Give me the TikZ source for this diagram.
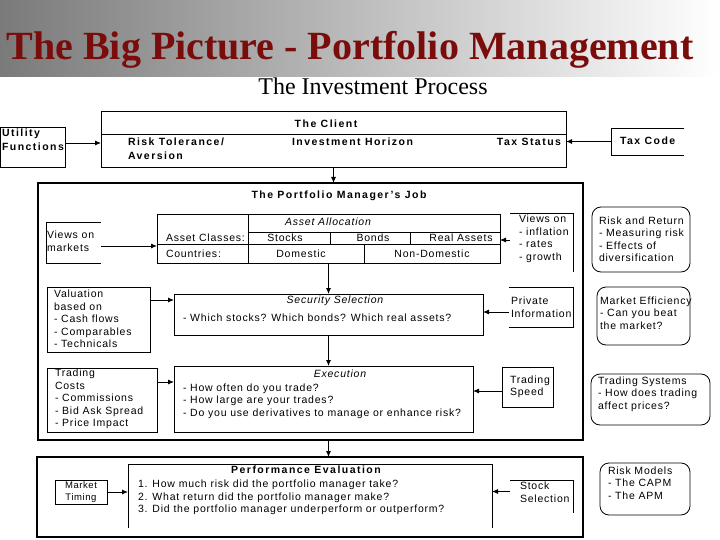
\documentclass[tikz,border=0pt]{standalone}
\usepackage{fontspec}
\setmainfont{Liberation Sans}
\newfontfamily\serifx{Liberation Serif}
\usetikzlibrary{arrows.meta}
\definecolor{titlered}{HTML}{7B0C0C}
\definecolor{bannergray}{HTML}{7A7A7A}
\begin{document}
\begin{tikzpicture}[x=1pt,y=-1pt,
  every node/.style={inner sep=0pt, outer sep=0pt},
  txt/.style={font=\fontsize{10.5}{12.5}\selectfont\addfontfeature{LetterSpace=7.5}, align=left},
  btxt/.style={font=\bfseries\fontsize{10.5}{14}\selectfont\addfontfeature{LetterSpace=14}, align=left},
  itxt/.style={font=\itshape\fontsize{10.5}{12}\selectfont\addfontfeature{LetterSpace=7.5}},
  bx/.style={draw, line width=0.9pt},
  heavy/.style={draw, line width=1.7pt},
  rbx/.style={draw, line width=0.8pt, rounded corners=9pt},
  arr/.style={line width=0.9pt, -{Latex[length=6pt,width=5pt]}},
  ln/.style={line width=0.9pt},
  area/.style={anchor=north west}
]
\useasboundingbox (0,0) rectangle (720,540);
\shade[left color=bannergray, right color=white] (0,0) rectangle (720,77);
\node[anchor=base, font=\serifx\bfseries\fontsize{40}{40}\selectfont, text=titlered] (title) at (350,60) {The Big Picture - Portfolio Management};
\node[anchor=base, font=\serifx\fontsize{24}{24}\selectfont] (process) at (373,95) {The Investment Process};

% The client
\node[bx, area, minimum width=465pt, minimum height=56pt] (client) at (101,111) {};
\draw[ln] (client.west |- 0,134) -- (client.east |- 0,134);
\node[btxt] (clienthead) at (326,124) {The Client};
\node[btxt, anchor=west] (risktol) at (128,149) {Risk Tolerance/\\Aversion};
\node[btxt, anchor=west] (horizon) at (292,142) {Investment Horizon};
\node[btxt, anchor=east] (taxstatus) at (561,142) {Tax Status};

\node[bx, area, minimum width=64.5pt, minimum height=40pt] (util) at (0.5,127) {};
\node[btxt, anchor=west] (utiltext) at (2,140) {Utility\\Functions};
\coordinate (uA) at ([yshift=4pt]util.east);
\draw[arr] (uA) -- (uA -| client.west);

\node[area, minimum width=73pt, minimum height=27pt] (tax) at (611,128) {};
\draw[ln] (tax.north east) -- (tax.north west) -- (tax.south west) -- (tax.south east);
\node[btxt, anchor=west] (taxtext) at (620,141) {Tax Code};
\draw[arr] (tax.west) -- (tax.west -| client.east);

% Portfolio manager's job
\node[heavy, area, minimum width=545pt, minimum height=257pt] (pm) at (38,183) {};
\draw[arr] (client.south) -- (client.south |- pm.north);
\node[btxt] (pmhead) at (339,196) {The Portfolio Manager's Job};

% asset allocation table
\node[bx, area, minimum width=343pt, minimum height=49pt] (tab) at (157,214) {};
\draw[ln] (248,214) -- (248,263);
\draw[ln] (248,232) -- (500,232);
\draw[ln] (157,244) -- (500,244);
\draw[ln] (330,232) -- (330,244);
\draw[ln] (410,232) -- (410,244);
\draw[ln] (364,244) -- (364,263);
\node[itxt] (aahead) at (328,222) {Asset Allocation};
\node[txt, anchor=west] (aclass) at (166,238) {Asset Classes:};
\node[txt] (stocks) at (285,238) {Stocks};
\node[txt] (bonds) at (373,238) {Bonds};
\node[txt] (real) at (461,238) {Real Assets};
\node[txt, anchor=west] (countries) at (166,254) {Countries:};
\node[txt] (domestic) at (301,254) {Domestic};
\node[txt] (nondom) at (432,254) {Non-Domestic};

\node[area, minimum width=55pt, minimum height=41pt] (vm) at (46,222) {};
\draw[ln] (vm.north east) -- (vm.north west) -- (vm.south west) -- (vm.south east);
\node[txt, anchor=west] (vmtext) at (47,241) {Views on\\markets};
\coordinate (vmA) at ([yshift=-3.5pt]vm.east);
\draw[arr] (vmA) -- (vmA -| tab.west);

\node[area, minimum width=63pt, minimum height=59pt] (vr) at (510,213) {};
\draw[ln] (vr.north west) -- (vr.north east) -- (vr.south east);
\node[txt, anchor=west] (vrtext) at (519,239) {Views on\\- inflation\\- rates\\- growth};
\coordinate (vrA) at ([yshift=2.5pt]vr.west);
\draw[arr] (vrA) -- (vrA -| tab.east);

\node[rbx, area, minimum width=98pt, minimum height=65pt] (rr) at (592,207) {};
\node[txt, anchor=west] (rrtext) at (599,239) {Risk and Return\\- Measuring risk\\- Effects of\\diversification};

% security selection
\node[bx, area, minimum width=309pt, minimum height=41pt] (sec) at (174,294) {};
\draw[arr] (tab.south) -- (tab.south |- sec.north);
\node[itxt] (sechead) at (335,301) {Security Selection};
\node[txt, anchor=west] (sectext) at (183,318) {- Which stocks? Which bonds? Which real assets?};

\node[bx, area, minimum width=103pt, minimum height=65pt] (val) at (47,287) {};
\node[txt, anchor=west] (valtext) at (54,319) {Valuation\\based on\\- Cash flows\\- Comparables\\- Technicals};
\coordinate (vaA) at ([yshift=19.5pt]val.east);
\draw[arr] (vaA) -- (vaA -| sec.west);

\node[area, minimum width=64pt, minimum height=40pt] (pi) at (509,287) {};
\draw[ln] (pi.north west) -- (pi.north east) -- (pi.south east) -- (pi.south west);
\node[txt, anchor=west] (pitext) at (511,307) {Private\\Information};
\coordinate (piA) at ([yshift=-5pt]pi.west);
\draw[arr] (piA) -- (piA -| sec.east);

\node[rbx, area, minimum width=93pt, minimum height=58pt] (me) at (597,287) {};
\node[txt, anchor=west] (metext) at (600,313) {Market Efficiency\\- Can you beat\\the market?};

% execution
\node[bx, area, minimum width=299pt, minimum height=66pt] (exe) at (174,366) {};
\draw[arr] (sec.south) -- (sec.south |- exe.north);
\node[itxt] (exehead) at (340,374) {Execution};
\node[txt, anchor=west] (exetext) at (183,401) {- How often do you trade?\\- How large are your trades?\\- Do you use derivatives to manage or enhance risk?};

\node[bx, area, minimum width=110pt, minimum height=64pt] (tc) at (47,368) {};
\node[txt, anchor=west] (tctext) at (55,399) {Trading\\Costs\\- Commissions\\- Bid Ask Spread\\- Price Impact};
\coordinate (tcA) at ([yshift=18pt]tc.east);
\draw[arr] (tcA) -- (tcA -| exe.west);

\node[bx, area, minimum width=51pt, minimum height=40pt] (ts) at (502,367) {};
\node[txt, anchor=west] (tstext) at (510,387) {Trading\\Speed};
\coordinate (tsA) at ([yshift=-4pt]ts.west);
\draw[arr] (tsA) -- (tsA -| exe.east);

\node[rbx, area, minimum width=119pt, minimum height=51pt] (tsys) at (591,374) {};
\node[txt, anchor=west] (tsystext) at (598,394) {Trading Systems\\- How does trading\\affect prices?};

% performance evaluation
\node[heavy, area, minimum width=546pt, minimum height=80pt] (perf) at (37,457) {};
\draw[arr] (pm.south -| sec.south) -- (sec.south |- perf.north);
\node[area, minimum width=364pt, minimum height=64pt] (pin) at (128,464) {};
\draw[ln] (pin.south west) -- (pin.north west) -- (pin.north east) -- (pin.south east);
\node[btxt] (perfhead) at (306,470) {Performance Evaluation};
\node[txt, anchor=west] (perftext) at (138,497.5) {1. How much risk did the portfolio manager take?\\2. What return did the portfolio manager make?\\3. Did the portfolio manager underperform or outperform?};

\node[bx, area, minimum width=52pt, minimum height=24pt] (mt) at (55,480) {};
\node[font=\fontsize{9.5}{11.5}\selectfont\addfontfeature{LetterSpace=6}, align=center] (mttext) at (81,492) {Market\\Timing};
\draw[arr] (mt.east) -- (mt.east -| pin.west);

\node[area, minimum width=63pt, minimum height=33pt] (ss) at (510,480) {};
\draw[ln] (ss.north west) -- (ss.north east) -- (ss.south east);
\node[txt, anchor=west] (sstext) at (520,492) {Stock\\Selection};
\coordinate (ssA) at ([yshift=5pt]ss.west);
\draw[arr] (ssA) -- (ssA -| pin.east);

\node[rbx, area, minimum width=90pt, minimum height=52pt] (rm) at (600,463) {};
\node[txt, anchor=west] (rmtext) at (608,483) {Risk Models\\- The CAPM\\- The APM};
\end{tikzpicture}
\end{document}
